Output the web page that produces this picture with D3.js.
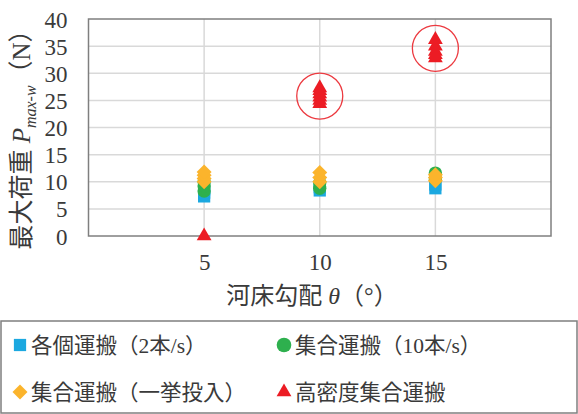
<!DOCTYPE html>
<html>
<head>
<meta charset="utf-8">
<script src="https://cdn.jsdelivr.net/npm/d3@7"></script>
<style>
  html, body { margin: 0; padding: 0; background: #fff; }
  svg text { font-family: "Liberation Serif", "Noto Sans CJK JP", serif; fill: #3a3a3a; }
</style>
</head>
<body>
<div id="chart"></div>
<script>
// Data
const xTicks = [5, 10, 15];
const yTicks = [0, 5, 10, 15, 20, 25, 30, 35, 40];

// [slope, load]
const individual = [[5, 7.3], [5, 8], [5, 8.6], [10, 8.4], [10, 9], [15, 8.8], [15, 9.5]];
const collective = [[5, 8.3], [5, 9.2], [5, 10], [10, 8.8], [10, 9.8], [15, 10.5], [15, 11.6]];
const bulk = [[5, 10], [5, 10.6], [5, 11.2], [5, 11.8], [10, 10], [10, 10.8], [10, 11.7], [15, 10.2], [15, 10.8], [15, 11.3]];
const dense = [[5, 0], [10, 24.4], [10, 25], [10, 25.6], [10, 26.2], [10, 26.8], [10, 27.3],
               [15, 32.8], [15, 33.4], [15, 34], [15, 35], [15, 36.2]];
const highlight = [[10, 25.8], [15, 34.6]];

const legendItems = [
  { label: "各個運搬（2本/s）", color: "#1ba8e0", shape: "square" },
  { label: "集合運搬（10本/s）", color: "#2eb04e", shape: "circle" },
  { label: "集合運搬（一挙投入）", color: "#fbb42c", shape: "diamond" },
  { label: "高密度集合運搬", color: "#ec1c24", shape: "triangle" }
];

const W = 578, H = 414;
const plot = { left: 88.5, right: 551, top: 19, bottom: 236 };

const svg = d3.select("#chart").append("svg")
  .attr("width", W).attr("height", H);

const x = d3.scaleLinear().domain([0, 20]).range([plot.left, plot.right]);
const y = d3.scaleLinear().domain([0, 40]).range([plot.bottom, plot.top]);

// gridlines
svg.append("g")
  .selectAll("line")
  .data(yTicks.slice(1, -1))
  .enter().append("line")
  .attr("x1", plot.left).attr("x2", plot.right)
  .attr("y1", d => y(d)).attr("y2", d => y(d))
  .attr("stroke", "#d9d9d9").attr("stroke-width", 1.5);

svg.append("g")
  .selectAll("line")
  .data(xTicks)
  .enter().append("line")
  .attr("x1", d => x(d)).attr("x2", d => x(d))
  .attr("y1", plot.top).attr("y2", plot.bottom)
  .attr("stroke", "#d9d9d9").attr("stroke-width", 1.5);

// plot border
svg.append("rect")
  .attr("x", plot.left).attr("y", plot.top)
  .attr("width", plot.right - plot.left).attr("height", plot.bottom - plot.top)
  .attr("fill", "none").attr("stroke", "#7f7f7f").attr("stroke-width", 1.5);

// axes (labels only)
const yAxis = svg.append("g")
  .attr("transform", `translate(${plot.left},0)`)
  .call(d3.axisLeft(y).tickValues(yTicks).tickSize(0).tickPadding(21));
yAxis.select(".domain").remove();
yAxis.selectAll("text").style("font-size", "23px").attr("dy", "0.35em");

const xAxis = svg.append("g")
  .attr("transform", `translate(0,${plot.bottom})`)
  .call(d3.axisBottom(x).tickValues(xTicks).tickSize(0).tickPadding(18));
xAxis.select(".domain").remove();
xAxis.selectAll("text").style("font-size", "23px");

// markers
function markerPath(shape) {
  if (shape === "square") return d3.symbol(d3.symbolSquare, 150)();
  if (shape === "circle") return d3.symbol(d3.symbolCircle, 140)();
  if (shape === "diamond") return d3.symbol(d3.symbolSquare, 112)();
  return d3.symbol(d3.symbolTriangle, 95)();
}
function drawSeries(data, item) {
  svg.append("g")
    .selectAll("path")
    .data(data)
    .enter().append("path")
    .attr("d", markerPath(item.shape))
    .attr("transform", d => `translate(${x(d[0])},${y(d[1])})` + (item.shape === "diamond" ? " rotate(45)" : ""))
    .attr("fill", item.color);
}
drawSeries(individual, legendItems[0]);
drawSeries(collective, legendItems[1]);
drawSeries(bulk, legendItems[2]);
drawSeries(dense, legendItems[3]);

// highlight circles
svg.append("g")
  .selectAll("circle")
  .data(highlight)
  .enter().append("circle")
  .attr("cx", d => x(d[0])).attr("cy", d => y(d[1]))
  .attr("r", 23)
  .attr("fill", "none").attr("stroke", "#ec3a40").attr("stroke-width", 1.3);

// axis titles
const yt = svg.append("text")
  .attr("transform", `translate(30,${(plot.top + plot.bottom) / 2 + 6}) rotate(-90)`)
  .attr("text-anchor", "middle")
  .style("font-size", "25px");
yt.append("tspan").text("最大荷重 ");
yt.append("tspan").style("font-style", "italic").text("P");
yt.append("tspan").style("font-style", "italic").style("font-size", "16px").attr("dy", "6").text("max-w");
yt.append("tspan").attr("dy", "-6").text("（N）");

const xt = svg.append("text")
  .attr("x", 312).attr("y", 304)
  .attr("text-anchor", "middle")
  .style("font-size", "24px");
xt.append("tspan").text("河床勾配 ");
xt.append("tspan").style("font-style", "italic").text("θ");
xt.append("tspan").text("（°）");

// legend
svg.append("rect")
  .attr("x", 1).attr("y", 321).attr("width", 576).attr("height", 92)
  .attr("fill", "none").attr("stroke", "#7f7f7f").attr("stroke-width", 1.5);

const legendPos = [[20, 345], [284, 345], [20, 392], [284, 392]];
legendItems.forEach((item, i) => {
  const [lx, ly] = legendPos[i];
  const g = svg.append("g").attr("transform", `translate(${lx},${ly})`);
  const scale = item.shape === "circle" ? 1.1 : 1;
  g.append("path")
    .attr("d", markerPath(item.shape))
    .attr("transform", (item.shape === "diamond" ? "rotate(45)" : "") + ` scale(${scale})`)
    .attr("fill", item.color);
  g.append("text")
    .attr("x", 11).attr("y", 8)
    .style("font-size", "21.5px")
    .text(item.label);
});
</script>
</body>
</html>
